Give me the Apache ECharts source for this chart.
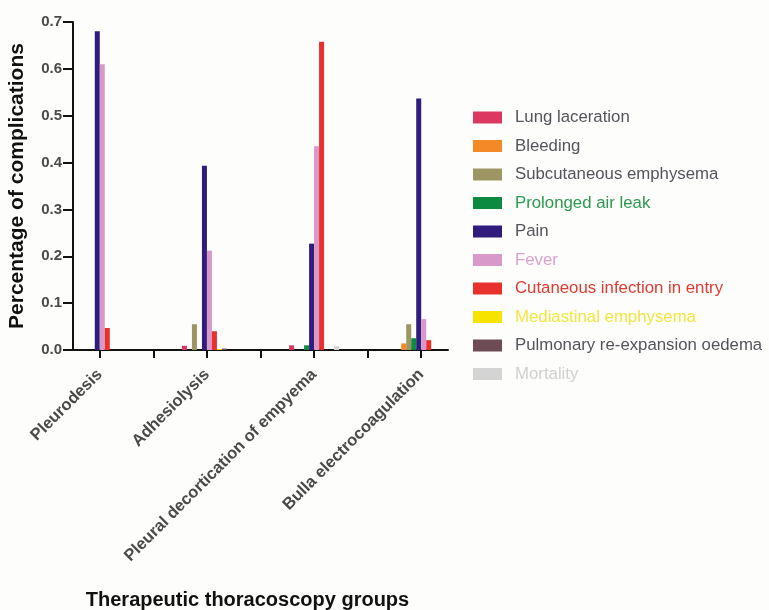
<!DOCTYPE html>
<html>
<head>
<meta charset="utf-8">
<title>Complications</title>
<script src="https://cdn.jsdelivr.net/npm/echarts@6/dist/echarts.min.js"></script>
<style type="text/css">
  * {margin: 0; padding: 0;}
  body {background: #fdfdfb;}
</style>
</head>
<body>
<div id="chart" style="width:769px;height:610px"></div>
<script type="text/javascript">
// groups on the x axis (placed at 0, 1, 2, 3)
var groups = ['Pleurodesis', 'Adhesiolysis', 'Pleural decortication of empyema', 'Bulla electrocoagulation'];
var yTicks = [0, 0.1, 0.2, 0.3, 0.4, 0.5, 0.6, 0.7];

// one array per complication, one value per group
var lungLaceration   = [0,     0.009, 0.010, 0];
var bleeding         = [0,     0,     0,     0.014];
var subcutaneous     = [0,     0.055, 0,     0.055];
var airLeak          = [0,     0,     0.010, 0.025];
var pain             = [0.680, 0.393, 0.227, 0.537];
var fever            = [0.610, 0.212, 0.435, 0.066];
var cutaneous        = [0.047, 0.040, 0.658, 0.021];
var mediastinal      = [0,     0.002, 0,     0];
var pulmonaryOedema  = [0,     0.003, 0,     0];
var mortality        = [0,     0,     0.008, 0];

var seriesList = [
  {name: 'Lung laceration', data: lungLaceration, color: '#dc3760', text: '#55545c'},
  {name: 'Bleeding', data: bleeding, color: '#f38a26', text: '#55545c'},
  {name: 'Subcutaneous emphysema', data: subcutaneous, color: '#9d9562', text: '#55545c'},
  {name: 'Prolonged air leak', data: airLeak, color: '#0c8a40', text: '#2a9a4e'},
  {name: 'Pain', data: pain, color: '#2f1c7c', text: '#55545c'},
  {name: 'Fever', data: fever, color: '#d899c8', text: '#dba2cf'},
  {name: 'Cutaneous infection in entry', data: cutaneous, color: '#e8302c', text: '#e03a33'},
  {name: 'Mediastinal emphysema', data: mediastinal, color: '#f6e400', text: '#f2e640'},
  {name: 'Pulmonary re-expansion oedema', data: pulmonaryOedema, color: '#6d4c55', text: '#55545c'},
  {name: 'Mortality', data: mortality, color: '#d4d4d4', text: '#d0d0d0'}
];

var chart = echarts.init(document.getElementById('chart'));

var option = {
  backgroundColor: '#fdfdfb',
  animation: false,
  grid: {left: 73, right: 321, top: 22, bottom: 260, outerBoundsMode: 'none'},
  legend: {
    orient: 'vertical',
    left: 468,
    top: 104,
    icon: 'rect',
    itemWidth: 29,
    itemHeight: 12,
    itemGap: 11.5,
    textStyle: {fontFamily: 'Liberation Sans', fontSize: 16.8, padding: [0, 0, 0, 8]},
    data: seriesList.map(function (s) {
      return {name: s.name, textStyle: {color: s.text}};
    })
  },
  xAxis: {
    type: 'value',
    min: -0.25,
    max: 3.25,
    splitLine: {show: false},
    name: 'Therapeutic thoracoscopy groups',
    nameLocation: 'middle',
    nameGap: 240,
    nameTextStyle: {color: '#111', fontFamily: 'Liberation Sans', fontWeight: 'bold', fontSize: 20, padding: [0, 26, 0, 0]},
    axisLine: {onZero: false, lineStyle: {color: '#111', width: 2}},
    axisTick: {
      length: 8,
      lineStyle: {color: '#111', width: 2},
      customValues: [0, 0.5, 1, 1.5, 2, 2.5, 3]
    },
    axisLabel: {
      customValues: [0, 1, 2, 3],
      rotate: 45,
      margin: 22,
      color: '#4a4a4a',
      fontFamily: 'Liberation Sans',
      fontWeight: 'bold',
      fontSize: 16.5,
      formatter: function (v) { return groups[Math.round(v)]; }
    }
  },
  yAxis: {
    type: 'value',
    min: 0,
    max: 0.7,
    interval: 0.1,
    splitLine: {show: false},
    name: 'Percentage of complications',
    nameLocation: 'middle',
    nameGap: 45,
    nameTextStyle: {color: '#111', fontFamily: 'Liberation Sans', fontWeight: 'bold', fontSize: 21},
    axisLine: {show: true, onZero: false, lineStyle: {color: '#111', width: 2}},
    axisTick: {show: true, length: 10, lineStyle: {color: '#111', width: 2}},
    axisLabel: {
      margin: 11,
      color: '#4a4a4a',
      fontFamily: 'Liberation Sans',
      fontWeight: 'bold',
      fontSize: 15,
      formatter: function (v) { return v.toFixed(1); }
    }
  },
  series: seriesList.map(function (s) {
    return {
      name: s.name,
      type: 'bar',
      barWidth: 5,
      barGap: '0%',
      itemStyle: {color: s.color},
      data: s.data.map(function (v, i) { return [i, v]; })
    };
  })
};

chart.setOption(option);
</script>
</body>
</html>
